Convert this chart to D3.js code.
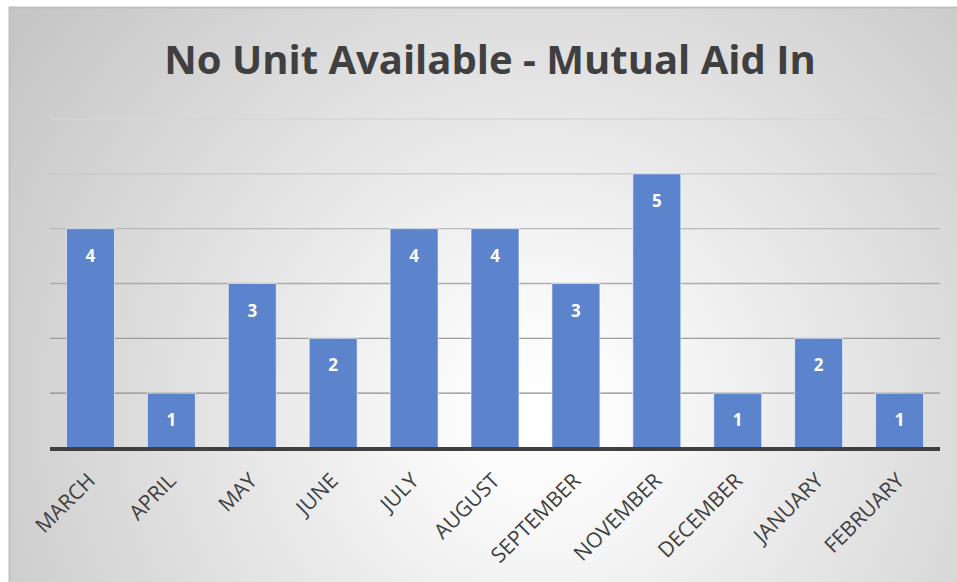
<!DOCTYPE html>
<html><head><meta charset="utf-8">
<script src="https://cdn.jsdelivr.net/npm/d3@7"></script>
<style>html,body{margin:0;padding:0;background:#fff;}svg{display:block;}</style>
</head><body>
<script>
const categories = ["MARCH","APRIL","MAY","JUNE","JULY","AUGUST","SEPTEMBER","NOVEMBER","DECEMBER","JANUARY","FEBRUARY"];
const values = [4,1,3,2,4,4,3,5,1,2,1];
const yTicks = [0,1,2,3,4,5,6];
const title = "No Unit Available - Mutual Aid In";

const W = 957, H = 582;
const svg = d3.select("body").append("svg").attr("width", W).attr("height", H);
const defs = svg.append("defs");
const grad = defs.append("radialGradient").attr("id","bg")
  .attr("gradientUnits","userSpaceOnUse").attr("cx",540).attr("cy",410).attr("r",640);
grad.append("stop").attr("offset","0%").attr("stop-color","#ffffff");
grad.append("stop").attr("offset","15%").attr("stop-color","#fafafa");
grad.append("stop").attr("offset","100%").attr("stop-color","#c6c6c6");

svg.append("rect").attr("x",9.5).attr("y",7.5).attr("width",W).attr("height",H)
  .attr("fill","url(#bg)").attr("stroke","#bfbfbf").attr("stroke-width",2);

const x = d3.scaleBand().domain(categories).range([50,940]).paddingInner(0.407).paddingOuter(0.2035);
const y = d3.scaleLinear().domain([0,6]).range([448,119]);
const gridColor = d3.scaleLinear().domain([1,6]).range(["#8e8e8e","#d6d6d6"]);

svg.append("g").selectAll("line").data(yTicks.filter(d=>d>0)).join("line")
  .attr("x1",50).attr("x2",940).attr("y1",d=>y(d)).attr("y2",d=>y(d))
  .attr("stroke",d=>gridColor(d)).attr("stroke-width",1.4);

svg.append("g").selectAll("rect").data(values).join("rect")
  .attr("x",(d,i)=>x(categories[i])).attr("width",x.bandwidth())
  .attr("y",d=>y(d)).attr("height",d=>y(0)-y(d))
  .attr("fill","#5b84cc").attr("stroke","rgba(255,255,255,0.6)").attr("stroke-width",1);

svg.append("g").selectAll("text").data(values).join("text")
  .attr("x",(d,i)=>x(categories[i])+x.bandwidth()/2).attr("y",d=>y(d)+33)
  .attr("text-anchor","middle").attr("fill","#fff")
  .attr("font-family","'Open Sans', sans-serif").attr("font-weight","bold").attr("font-size",17)
  .text(d=>d);

const xAxis = d3.axisBottom(x).tickSize(0).tickPadding(0);
const ax = svg.append("g").attr("transform",`translate(0,${y(0)})`).call(xAxis);
ax.select(".domain").remove();
ax.selectAll("text")
  .style("font-family","'Open Sans', sans-serif").style("font-size","21px").attr("fill","#404040")
  .attr("text-anchor","end").attr("dy",0)
  .attr("transform","translate(6,34) rotate(-45)");

svg.append("line").attr("x1",50).attr("x2",940).attr("y1",y(0)+1).attr("y2",y(0)+1)
  .attr("stroke","#404040").attr("stroke-width",4);

svg.append("text").attr("x",490).attr("y",74).attr("text-anchor","middle")
  .attr("font-family","'Open Sans', sans-serif").attr("font-weight","bold").attr("font-size",40)
  .attr("fill","#404040").text(title);
</script>
</body></html>
